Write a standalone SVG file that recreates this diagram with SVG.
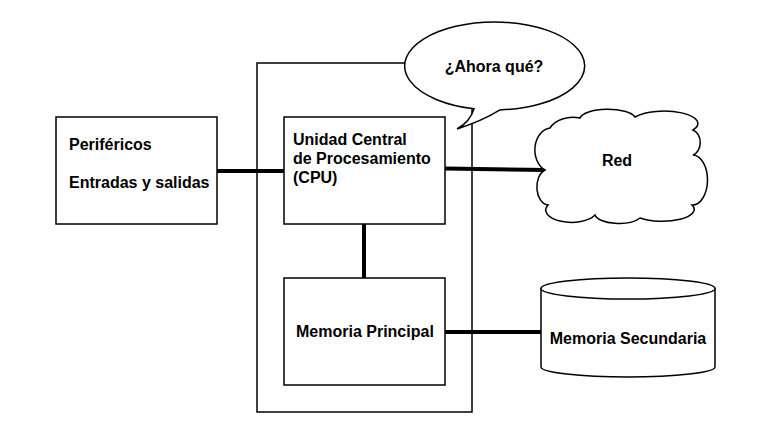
<svg xmlns="http://www.w3.org/2000/svg" width="757" height="438" viewBox="0 0 757 438">
<style>
.box{fill:#fff;stroke:#000;stroke-width:1.5}
.conn{stroke:#000;stroke-width:4;fill:none}
.t{font-family:"Liberation Sans",Arial,sans-serif;font-weight:bold;font-size:16px;fill:#000}
</style>
<rect width="757" height="438" fill="#fff"/>
<g id="outer"><rect class="box" x="257" y="63" width="215" height="349"/></g>
<g id="connectors">
<line class="conn" x1="217" y1="171" x2="284" y2="171"/>
<line class="conn" x1="445" y1="168.5" x2="546" y2="170"/>
<line class="conn" x1="364" y1="224" x2="364" y2="278"/>
<line class="conn" x1="445" y1="332" x2="541" y2="332"/>
</g>
<g id="perifericos">
<rect class="box" x="56" y="117" width="161" height="107"/>
<text class="t" x="69" y="150">Periféricos</text>
<text class="t" x="69" y="188">Entradas y salidas</text>
</g>
<g id="cpu">
<rect class="box" x="284" y="117" width="161" height="107"/>
<text class="t" x="293" y="145">Unidad Central</text>
<text class="t" x="293" y="164">de Procesamiento</text>
<text class="t" x="293" y="183">(CPU)</text>
</g>
<g id="memoria-principal">
<rect class="box" x="284" y="278" width="161" height="107"/>
<text class="t" x="296" y="337">Memoria Principal</text>
</g>
<g id="bocadillo">
<path class="box" d="M474,108.8 Q470,122 457,129 Q482,121 500,109.9 A90,44 0 1 0 474,108.8 Z"/>
<text class="t" x="494" y="72" text-anchor="middle">¿Ahora qué?</text>
</g>
<g id="red">
<path class="box" d="M545,170 A17,22 0 0 1 550,128 A25,18 0 0 1 580,118 A28,10 0 0 1 635,117 A30,11 0 0 1 693,130 A10,13 0 0 1 693,155 A15,25 0 0 1 692,205 A32,12 0 0 1 640,218 A24,10 0 0 1 595,215 A25,12 0 0 1 548,205 A12,18 0 0 1 545,170 Z"/>
<text class="t" x="617" y="166" text-anchor="middle">Red</text>
</g>
<g id="memoria-secundaria">
<path class="box" d="M541,288.5 L541,367 A87,10 0 0 0 715,367 L715,288.5 Z"/>
<ellipse class="box" cx="628" cy="288.5" rx="87" ry="10.5"/>
<text class="t" x="628" y="344" text-anchor="middle">Memoria Secundaria</text>
</g>
</svg>
